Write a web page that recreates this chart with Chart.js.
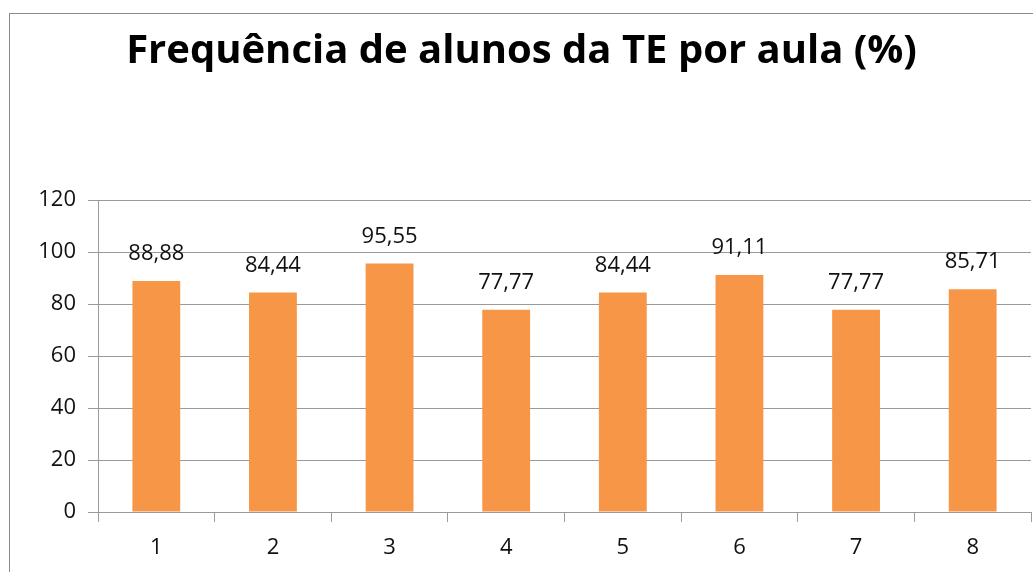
<!DOCTYPE html>
<html>
<head>
<meta charset="utf-8">
<script src="https://cdn.jsdelivr.net/npm/chart.js@4"></script>
<style>
  html, body { margin: 0; padding: 0; background: #fff; overflow: hidden; }
  #wrap { position: relative; width: 1033px; height: 572px; }
  #frame { position: absolute; left: 9px; top: 13px; width: 1100px; height: 700px; border: 1px solid #8a8a8a; }
  canvas { position: absolute; left: 0; top: 0; }
</style>
</head>
<body>
<div id="wrap">
  <div id="frame"></div>
  <canvas id="myChart" width="1033" height="572"></canvas>
</div>
<script>
var aulas = ["1", "2", "3", "4", "5", "6", "7", "8"];
var frequencia = [88.88, 84.44, 95.55, 77.77, 84.44, 91.11, 77.77, 85.71];
var yTicks = [0, 20, 40, 60, 80, 100, 120];

var fontName = "Open Sans";
var gridColor = "#9a9a9a";

// value labels above the bars
var barLabels = {
  id: "barLabels",
  afterDatasetsDraw: function(chart) {
    var ctx = chart.ctx;
    var meta = chart.getDatasetMeta(0);
    ctx.save();
    ctx.font = "22px '" + fontName + "'";
    ctx.fillStyle = "#111";
    ctx.textAlign = "center";
    ctx.textBaseline = "middle";
    meta.data.forEach(function(bar, i) {
      var txt = frequencia[i].toFixed(2).replace(".", ",");
      ctx.fillText(txt, bar.x, bar.y - 27);
    });
    ctx.restore();
  }
};

new Chart("myChart", {
  type: "bar",
  data: {
    labels: aulas,
    datasets: [{
      data: frequencia,
      backgroundColor: "#F79646",
      barPercentage: 0.82,
      categoryPercentage: 0.5
    }]
  },
  plugins: [barLabels],
  options: {
    responsive: false,
    animation: false,
    layout: { padding: { left: 12, right: 2, top: 0, bottom: 0 } },
    plugins: {
      legend: { display: false },
      tooltip: { enabled: false },
      title: {
        display: true,
        text: "Frequência de alunos da TE por aula (%)",
        color: "#000",
        font: { family: fontName, size: 40, weight: "bold", lineHeight: 1.2 },
        padding: { top: 28, bottom: 124 }
      }
    },
    scales: {
      y: {
        min: 0,
        max: 120,
        afterBuildTicks: function(scale) {
          scale.ticks = yTicks.map(function(v) { return { value: v }; });
        },
        afterFit: function(scale) { scale.width = 86; },
        grid: { color: gridColor, tickLength: 10, lineWidth: 1 },
        border: { display: true, color: gridColor },
        ticks: { color: "#111", padding: 12, font: { family: fontName, size: 22 } }
      },
      x: {
        afterFit: function(scale) { scale.height = 60; },
        grid: { drawOnChartArea: false, drawTicks: true, tickLength: 10, color: gridColor, offset: true },
        border: { display: true, color: gridColor },
        ticks: { color: "#111", padding: 13, font: { family: fontName, size: 22 } }
      }
    }
  }
});
</script>
</body>
</html>
